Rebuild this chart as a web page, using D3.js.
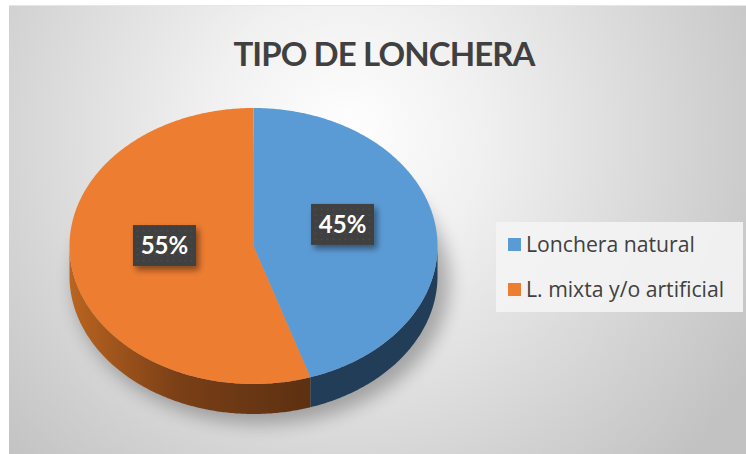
<!DOCTYPE html>
<html>
<head>
<meta charset="utf-8">
<script src="https://cdn.jsdelivr.net/npm/d3@7"></script>
<style>
  html, body { margin: 0; padding: 0; background: #ffffff; }
  svg { display: block; }
</style>
</head>
<body>
<svg id="chart" width="746" height="454"></svg>
<script>
// Data
const categories = ['Lonchera natural', 'L. mixta y/o artificial'];
const values = [45, 55];
const titleText = 'TIPO DE LONCHERA';

// Styles
const topColors = ['#5B9BD5', '#ED7D31'];
const sideColors = ['#223D57', 'url(#orangeSide)'];

const svg = d3.select('#chart');
const width = 746, height = 454;

// Pie geometry (tilted ellipse)
const cx = 253.5, cy = 246, rx = 184, ry = 138, depth = 30;

const defs = svg.append('defs');

// Background gradient
const bg = defs.append('radialGradient')
  .attr('id', 'bgGrad')
  .attr('gradientUnits', 'userSpaceOnUse')
  .attr('cx', 345).attr('cy', 135).attr('r', 470);
bg.append('stop').attr('offset', 0).attr('stop-color', '#ffffff');
bg.append('stop').attr('offset', 0.3).attr('stop-color', '#f0f0f0');
bg.append('stop').attr('offset', 1).attr('stop-color', '#c2c2c2');

// Orange side gradient
const og = defs.append('linearGradient')
  .attr('id', 'orangeSide')
  .attr('gradientUnits', 'userSpaceOnUse')
  .attr('x1', cx - rx).attr('x2', 312).attr('y1', 0).attr('y2', 0);
og.append('stop').attr('offset', 0).attr('stop-color', '#BA6420');
og.append('stop').attr('offset', 0.45).attr('stop-color', '#7A3F16');
og.append('stop').attr('offset', 1).attr('stop-color', '#5C3012');

// Shadow blur
defs.append('filter').attr('id', 'blur')
  .attr('x', '-20%').attr('y', '-20%').attr('width', '140%').attr('height', '140%')
  .append('feGaussianBlur').attr('stdDeviation', 9);

const ds = defs.append('filter').attr('id', 'labelShadow')
  .attr('x', '-30%').attr('y', '-30%').attr('width', '160%').attr('height', '170%');
ds.append('feDropShadow').attr('dx', 3).attr('dy', 4).attr('stdDeviation', 3)
  .attr('flood-color', '#000').attr('flood-opacity', 0.45);

// Dotted pattern for label boxes
const pat = defs.append('pattern').attr('id', 'dots')
  .attr('patternUnits', 'userSpaceOnUse').attr('width', 6).attr('height', 6);
pat.append('rect').attr('width', 6).attr('height', 6).attr('fill', '#3f3f3f');
pat.append('circle').attr('cx', 3).attr('cy', 3).attr('r', 1).attr('fill', '#4c4c4c');

// Chart area
svg.append('rect')
  .attr('x', 9).attr('y', 5)
  .attr('width', width - 9).attr('height', height - 5)
  .attr('fill', 'url(#bgGrad)');
svg.append('line')
  .attr('x1', 9).attr('x2', width).attr('y1', 5.5).attr('y2', 5.5)
  .attr('stroke', '#e6e6e6');

// Title
svg.append('text')
  .attr('x', 384).attr('y', 66)
  .attr('text-anchor', 'middle')
  .attr('font-family', 'Lato, "Open Sans", sans-serif')
  .attr('font-weight', 'bold')
  .attr('font-size', 33)
  .attr('letter-spacing', -0.9)
  .attr('fill', '#404040')
  .text(titleText);

// Pie layout
const pie = d3.pie().sort(null).value(d => d).startAngle(0).endAngle(2 * Math.PI);
const arcs = pie(values);

function pt(a, k, dy) {
  return [cx + rx * k * Math.sin(a), cy - ry * k * Math.cos(a) + (dy || 0)];
}
function arcPoints(a0, a1, dy) {
  const n = Math.max(2, Math.ceil((a1 - a0) / 0.01));
  return d3.range(n + 1).map(i => pt(a0 + (a1 - a0) * i / n, 1, dy));
}
const line = d3.line();

// Shadow
svg.append('ellipse')
  .attr('cx', cx + 8).attr('cy', cy + depth + 6)
  .attr('rx', rx + 4).attr('ry', ry + 4)
  .attr('fill', '#000').attr('opacity', 0.28)
  .attr('filter', 'url(#blur)');

// Sides (front half only)
arcs.forEach((d, i) => {
  const s = Math.max(d.startAngle, Math.PI / 2);
  const e = Math.min(d.endAngle, 3 * Math.PI / 2);
  if (e <= s) return;
  const topPts = arcPoints(s, e, 0);
  const botPts = arcPoints(s, e, depth).reverse();
  svg.append('path')
    .attr('d', line(topPts.concat(botPts)) + 'Z')
    .attr('fill', sideColors[i]);
});

// Tops
arcs.forEach((d, i) => {
  const pts = [[cx, cy]].concat(arcPoints(d.startAngle, d.endAngle, 0));
  svg.append('path')
    .attr('d', line(pts) + 'Z')
    .attr('fill', topColors[i]);
});

// Data labels
const boxW = 63, boxH = 41;
arcs.forEach((d, i) => {
  const mid = (d.startAngle + d.endAngle) / 2;
  const p = pt(mid, 0.49, -11);
  const g = svg.append('g').attr('transform', `translate(${p[0]},${p[1]})`);
  g.append('rect')
    .attr('x', -boxW / 2).attr('y', -boxH / 2)
    .attr('width', boxW).attr('height', boxH)
    .attr('fill', 'url(#dots)')
    .attr('filter', 'url(#labelShadow)');
  g.append('text')
    .attr('text-anchor', 'middle')
    .attr('y', 8.5)
    .attr('font-family', 'Lato, "Open Sans", sans-serif')
    .attr('font-weight', 'bold')
    .attr('font-size', 24)
    .attr('fill', '#ffffff')
    .text(Math.round(d.value / d3.sum(values) * 100) + '%');
});

// Legend
const legend = svg.append('g');
legend.append('rect')
  .attr('x', 496).attr('y', 222)
  .attr('width', 247).attr('height', 90)
  .attr('fill', '#f4f4f4').attr('opacity', 0.9);

const legendY = d3.scalePoint().domain(categories).range([245, 290]);
categories.forEach((c, i) => {
  legend.append('rect')
    .attr('x', 508).attr('y', legendY(c) - 7)
    .attr('width', 13).attr('height', 13)
    .attr('fill', topColors[i]);
  legend.append('text')
    .attr('x', 526).attr('y', legendY(c) + 7)
    .attr('font-family', '"Open Sans", Lato, sans-serif')
    .attr('font-size', 21.2)
    .attr('fill', '#404040')
    .text(c);
});
</script>
</body>
</html>
